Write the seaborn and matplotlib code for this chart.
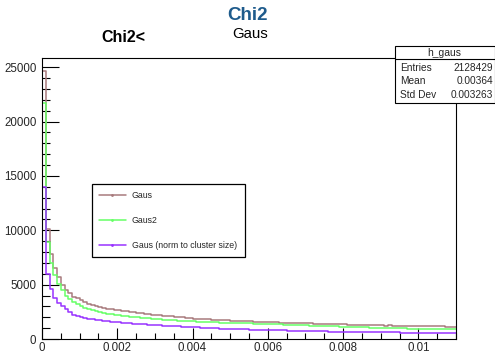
import numpy as np
import pandas as pd
import seaborn as sns
import matplotlib
matplotlib.use("Agg")
import matplotlib.pyplot as plt
from matplotlib.lines import Line2D
from matplotlib.patches import Rectangle
from matplotlib.ticker import MultipleLocator, FuncFormatter

# ---- histogram contents: 110 bins of width 0.0001 on [0, 0.011] ----
bin_width = 0.0001
n_bins = 110

gaus = [
    24700, 10100, 7800, 6500, 5700, 5000, 4500, 4200, 3900, 3750,
    3550, 3400, 3250, 3150, 3050, 2950, 2870, 2800, 2760, 2700,
    2640, 2600, 2560, 2490, 2450, 2420, 2360, 2330, 2300, 2240,
    2200, 2170, 2150, 2090, 2080, 2040, 2010, 1990, 1950, 1920,
    1880, 1870, 1840, 1820, 1800, 1770, 1760, 1780, 1730, 1710,
    1690, 1690, 1660, 1640, 1640, 1610, 1600, 1600, 1570, 1560,
    1550, 1530, 1530, 1510, 1510, 1490, 1480, 1470, 1470, 1440,
    1440, 1430, 1410, 1420, 1400, 1380, 1390, 1370, 1350, 1350,
    1340, 1330, 1330, 1310, 1310, 1300, 1280, 1290, 1270, 1270,
    1260, 1240, 1250, 1240, 1220, 1220, 1210, 1210, 1190, 1200,
    1190, 1180, 1180, 1160, 1160, 1150, 1150, 1140, 1140, 1130,
]

gaus2 = [
    21700, 8900, 7000, 5900, 5100, 4500, 4000, 3700, 3400, 3200,
    3000, 2850, 2750, 2650, 2550, 2480, 2400, 2330, 2280, 2230,
    2180, 2140, 2100, 2060, 2020, 1990, 1950, 1920, 1890, 1860,
    1830, 1800, 1780, 1760, 1730, 1710, 1690, 1670, 1650, 1630,
    1610, 1600, 1580, 1570, 1550, 1540, 1520, 1510, 1500, 1490,
    1480, 1470, 1460, 1450, 1440, 1430, 1420, 1410, 1400, 1390,
    1380, 1370, 1360, 1340, 1330, 1310, 1300, 1290, 1270, 1260,
    1250, 1240, 1230, 1210, 1200, 1190, 1180, 1170, 1150, 1140,
    1130, 1120, 1100, 1090, 1080, 1070, 1060, 1050, 1040, 1030,
    1020, 1010, 1000, 990, 990, 980, 970, 960, 960, 950,
    950, 940, 940, 930, 930, 920, 920, 910, 910, 900,
]

gaus_norm = [
    14000, 6000, 4600, 3800, 3300, 3000, 2750, 2450, 2250, 2100,
    2050, 1950, 1880, 1820, 1770, 1720, 1680, 1640, 1600, 1570,
    1540, 1510, 1480, 1450, 1420, 1400, 1370, 1350, 1320, 1300,
    1280, 1260, 1240, 1220, 1200, 1180, 1160, 1140, 1120, 1100,
    1080, 1060, 1040, 1020, 1000, 990, 970, 960, 940, 930,
    920, 910, 900, 890, 880, 870, 860, 850, 840, 830,
    825, 815, 805, 795, 785, 775, 765, 755, 745, 735,
    725, 715, 710, 700, 695, 690, 685, 680, 675, 670,
    665, 660, 655, 650, 645, 640, 635, 630, 625, 620,
    615, 610, 605, 600, 600, 595, 590, 590, 585, 585,
    580, 580, 575, 575, 570, 570, 565, 565, 560, 560,
]

series_labels = ["Gaus", "Gaus2", "Gaus (norm to cluster size)"]
series_colors = ["#a87b7d", "#66ff66", "#9933ff"]

x_ticks = [0, 0.002, 0.004, 0.006, 0.008, 0.01]
y_ticks = [0, 5000, 10000, 15000, 20000, 25000]

stats_name = "h_gaus"
stats_rows = [("Entries", "2128429"), ("Mean", "0.00364"), ("Std Dev", "0.003263")]

# ---- style ----
sns.set_style("white")
plt.rcParams["font.family"] = ["Liberation Sans", "DejaVu Sans"]

W, H = 495, 353
fig = plt.figure(figsize=(W / 100, H / 100), dpi=100)
ax_l, ax_r, ax_t, ax_b = 42, 456, 58, 339
ax = fig.add_axes([ax_l / W, 1 - ax_b / H, (ax_r - ax_l) / W, (ax_b - ax_t) / H])

centers = (np.arange(n_bins) + 0.5) * bin_width
frames = []
for name, vals in zip(series_labels, [gaus, gaus2, gaus_norm]):
    frames.append(pd.DataFrame({"x": centers, "w": vals, "series": name}))
df = pd.concat(frames, ignore_index=True)

for name, color in zip(series_labels, series_colors):
    sub = df[df["series"] == name]
    sns.histplot(data=sub, x="x", weights="w", binwidth=bin_width,
                 binrange=(0, n_bins * bin_width), element="step",
                 fill=False, color=color, linewidth=1.1, ax=ax)

ax.set_xlim(0, 0.011)
ax.set_ylim(0, 25850)
ax.set_xlabel("")
ax.set_ylabel("")

ax.set_xticks(x_ticks)
ax.set_yticks(y_ticks)
ax.xaxis.set_minor_locator(MultipleLocator(0.0005))
ax.yaxis.set_minor_locator(MultipleLocator(1000))
ax.xaxis.set_major_formatter(FuncFormatter(lambda v, p: "0" if v == 0 else f"{v:g}"))
ax.tick_params(axis="both", which="both", direction="in", color="black",
               labelsize=8.3, top=False, right=False, bottom=True, left=True)
ax.tick_params(axis="x", which="major", length=8, width=0.8, pad=2)
ax.tick_params(axis="x", which="minor", length=4, width=0.8)
ax.tick_params(axis="y", which="major", length=12, width=0.8, pad=4)
ax.tick_params(axis="y", which="minor", length=6, width=0.8)
for s in ax.spines.values():
    s.set_color("black")
    s.set_linewidth(0.8)

# ---- legend ----
handles = [Line2D([0], [0], color=c, lw=1.1, marker=".", markersize=2)
           for c in series_colors]
leg = ax.legend(handles, series_labels, loc="upper left",
                bbox_to_anchor=((92 - ax_l) / (ax_r - ax_l), (ax_b - 184) / (ax_b - ax_t),
                                (245 - 92) / (ax_r - ax_l), 0.0),
                mode="expand", fontsize=6.3, frameon=True, fancybox=False,
                edgecolor="black", framealpha=1, borderpad=0.75, labelspacing=1.85,
                handlelength=3.1, handletextpad=0.7, numpoints=1, borderaxespad=0)
leg.get_frame().set_linewidth(0.9)

# ---- titles ----
fig.text(248 / W, 1 - 15 / H, "Chi2", ha="center", va="center", fontsize=13.5,
         fontweight="bold", color="#1e5b8c")
fig.text(250 / W, 1 - 34 / H, "Gaus", ha="center", va="center", fontsize=10.8,
         color="black")
fig.text(123 / W, 1 - 38 / H, "Chi2<", ha="center", va="center", fontsize=11.5,
         fontweight="bold", color="black")

# ---- statistics box ----
bx0, bx1, by0, by1, sep = 395, 494.5, 46, 102.5, 58.5
fig.patches.append(Rectangle((bx0 / W, 1 - by1 / H), (bx1 - bx0) / W, (by1 - by0) / H,
                             transform=fig.transFigure, facecolor="white",
                             edgecolor="black", linewidth=0.8, zorder=5))
fig.add_artist(Line2D([bx0 / W, bx1 / W], [1 - sep / H, 1 - sep / H],
                      transform=fig.transFigure, color="black", lw=0.8, zorder=6))
fig.text((bx0 + bx1) / 2 / W, 1 - 53 / H, stats_name, ha="center", va="center",
         fontsize=7.5, zorder=7)
for (k, v), yy in zip(stats_rows, [68, 81.5, 95]):
    fig.text(400 / W, 1 - yy / H, k, ha="left", va="center", fontsize=7.3, zorder=7)
    fig.text(493 / W, 1 - yy / H, v, ha="right", va="center", fontsize=7.3, zorder=7)

fig.savefig("out.png", dpi=100, facecolor="white")
